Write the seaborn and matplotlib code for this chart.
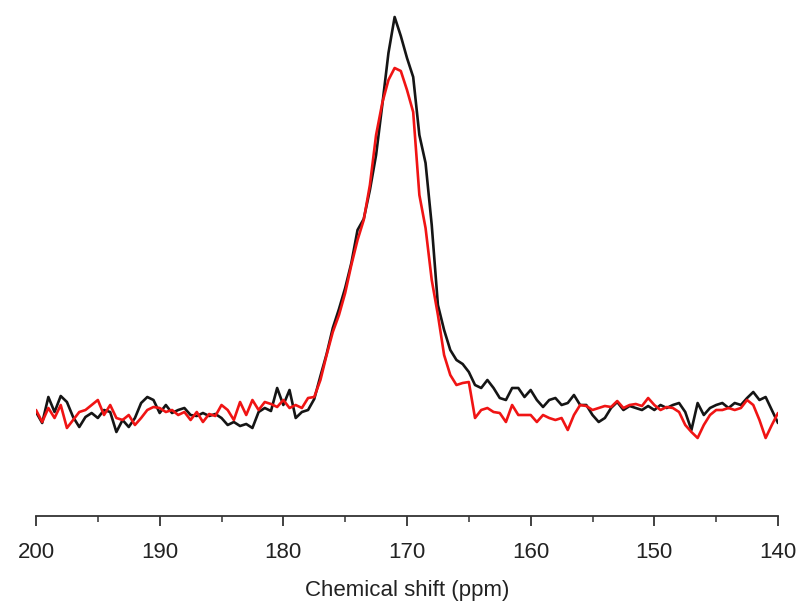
import numpy as np
import pandas as pd
import matplotlib
matplotlib.use("Agg")
import matplotlib.pyplot as plt
from matplotlib.ticker import MultipleLocator
import seaborn as sns

# Chemical shift axis, 0.5 ppm steps from 200 down to 140 ppm
shift_ppm = np.arange(200.0, 139.75, -0.5)

# Spectrum 1 (black), arbitrary intensity units
black_intensity = [
    -2, -13, 13, -2, 14, 8, -7, -17, -7, -3,
    -8, 0, -2, -22, -10, -17, -8, 7, 13, 10,
    -3, 5, -3, 0, 2, -5, -6, -3, -6, -4,
    -8, -15, -12, -16, -14, -18, -2, 2, -1, 22,
    5, 20, -8, -2, 0, 11, 34, 56, 82, 101,
    122, 147, 180, 191, 220, 255, 305, 357, 393, 374,
    352, 333, 275, 247, 185, 105, 80, 60, 50, 46,
    38, 25, 22, 30, 22, 12, 10, 22, 22, 13,
    20, 10, 3, 10, 12, 5, 7, 15, 5, 5,
    -5, -12, -8, 2, 8, 0, 4, 2, 0, 4,
    0, 5, 2, 5, 7, -2, -20, 7, -5, 2,
    5, 7, 2, 7, 5, 12, 18, 10, 13, 0,
    -13,
]

# Spectrum 2 (red), arbitrary intensity units
red_intensity = [
    0, -12, 2, -8, 5, -18, -10, -2, 0, 5,
    10, -5, 5, -8, -10, -5, -15, -8, 0, 3,
    2, -2, 0, -5, -2, -10, -2, -12, -4, -6,
    5, 0, -10, 8, -5, 10, 0, 8, 6, 3,
    10, 2, 5, 2, 12, 13, 30, 55, 78, 95,
    117, 145, 170, 190, 225, 275, 307, 330, 342, 339,
    320, 298, 215, 182, 130, 95, 55, 35, 25, 27,
    28, -8, 0, 2, -2, -3, -12, 5, -5, -5,
    -5, -12, -5, -8, -10, -8, -20, -5, 5, 4,
    0, 2, 4, 3, 9, 2, 5, 6, 4, 12,
    5, 0, 3, 2, -2, -15, -22, -28, -15, -5,
    0, 0, 2, 0, 2, 10, 5, -10, -28, -15,
    -3,
]

df = pd.DataFrame({
    "shift": np.concatenate([shift_ppm, shift_ppm]),
    "intensity": black_intensity + red_intensity,
    "sample": ["black"] * len(shift_ppm) + ["red"] * len(shift_ppm),
})

sns.set_style("white")
plt.rcParams["font.family"] = ["Liberation Sans", "DejaVu Sans"]

fig = plt.figure(figsize=(8.05, 6.11), dpi=100)
ax = fig.add_axes([36 / 805, 95 / 611, 742 / 805, 506 / 611])

sns.lineplot(
    data=df, x="shift", y="intensity", hue="sample",
    palette={"black": "#151515", "red": "#f01414"},
    linewidth=1.9, legend=False, ax=ax, sort=False,
)
for line in ax.get_lines():
    line.set_solid_joinstyle("round")
    line.set_solid_capstyle("round")

ax.set_xlim(200, 140)
ax.set_ylim(-106, 400)

for side in ("left", "top", "right"):
    ax.spines[side].set_visible(False)
ax.spines["bottom"].set_color("#333333")
ax.spines["bottom"].set_linewidth(1.3)

ax.xaxis.set_major_locator(MultipleLocator(10))
ax.xaxis.set_minor_locator(MultipleLocator(5))
ax.tick_params(axis="x", which="major", direction="out", length=7, width=1.3,
               color="#333333", labelsize=16, pad=12, bottom=True)
ax.tick_params(axis="x", which="minor", direction="out", length=4, width=1.1,
               color="#333333", bottom=True)
ax.set_yticks([])
ax.set_ylabel("")
ax.set_xlabel("Chemical shift (ppm)", fontsize=16, labelpad=12, color="#222222")
for lbl in ax.get_xticklabels():
    lbl.set_color("#222222")

fig.savefig("out.png", dpi=100)
